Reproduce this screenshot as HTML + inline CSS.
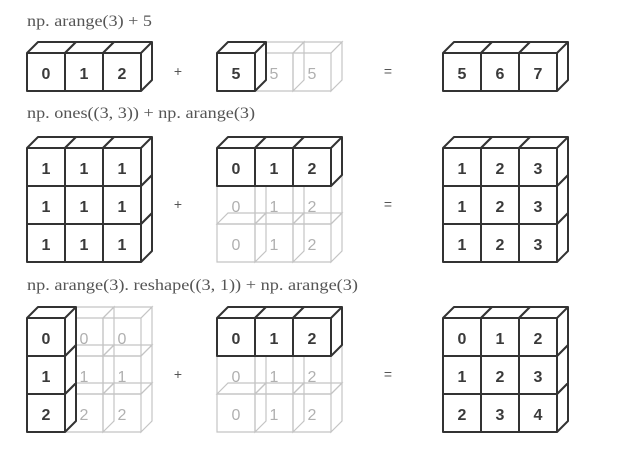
<!DOCTYPE html>
<html><head><meta charset="utf-8"><style>html,body{margin:0;padding:0;background:#fff}svg{display:block}</style></head>
<body>
<svg width="634" height="460" viewBox="0 0 634 460" xmlns="http://www.w3.org/2000/svg">
<defs>
<path id="cp" d="M0 0h38v38h-38z M0 0l11-11h38l-11 11z M38 38l11-11v-38l-11 11z"/>
<g id="g"><use href="#cp" fill="none" stroke="#c4c4c4" stroke-width="1.2"/></g>
<g id="b"><use href="#cp" fill="#fff" stroke="#333" stroke-width="2" stroke-linejoin="round"/></g>
</defs>
<g font-family="Liberation Serif, serif" font-size="16" fill="#555">
<text x="27" y="26" textLength="125" lengthAdjust="spacingAndGlyphs">np. arange(3) + 5</text>
<text x="27" y="118" textLength="228" lengthAdjust="spacingAndGlyphs">np. ones((3, 3)) + np. arange(3)</text>
<text x="27" y="290" textLength="331" lengthAdjust="spacingAndGlyphs">np. arange(3). reshape((3, 1)) + np. arange(3)</text>
</g>
<g font-family="Liberation Sans, sans-serif" font-size="14" fill="#555" text-anchor="middle">
<text x="178" y="76">+</text><text x="388" y="76">=</text>
<text x="178" y="209">+</text><text x="388" y="209">=</text>
<text x="178" y="379">+</text><text x="388" y="379">=</text>
</g>
<use href="#g" x="255" y="53"/><use href="#g" x="293" y="53"/>
<use href="#g" x="217" y="224"/><use href="#g" x="255" y="224"/><use href="#g" x="293" y="224"/>
<use href="#g" x="217" y="186"/><use href="#g" x="255" y="186"/><use href="#g" x="293" y="186"/>
<use href="#g" x="65" y="394"/><use href="#g" x="103" y="394"/>
<use href="#g" x="65" y="356"/><use href="#g" x="103" y="356"/>
<use href="#g" x="65" y="318"/><use href="#g" x="103" y="318"/>
<use href="#g" x="217" y="394"/><use href="#g" x="255" y="394"/><use href="#g" x="293" y="394"/>
<use href="#g" x="217" y="356"/><use href="#g" x="255" y="356"/><use href="#g" x="293" y="356"/>
<use href="#b" x="27" y="53"/><use href="#b" x="65" y="53"/><use href="#b" x="103" y="53"/>
<use href="#b" x="217" y="53"/>
<use href="#b" x="443" y="53"/><use href="#b" x="481" y="53"/><use href="#b" x="519" y="53"/>
<use href="#b" x="27" y="224"/><use href="#b" x="65" y="224"/><use href="#b" x="103" y="224"/>
<use href="#b" x="27" y="186"/><use href="#b" x="65" y="186"/><use href="#b" x="103" y="186"/>
<use href="#b" x="27" y="148"/><use href="#b" x="65" y="148"/><use href="#b" x="103" y="148"/>
<use href="#b" x="217" y="148"/><use href="#b" x="255" y="148"/><use href="#b" x="293" y="148"/>
<use href="#b" x="443" y="224"/><use href="#b" x="481" y="224"/><use href="#b" x="519" y="224"/>
<use href="#b" x="443" y="186"/><use href="#b" x="481" y="186"/><use href="#b" x="519" y="186"/>
<use href="#b" x="443" y="148"/><use href="#b" x="481" y="148"/><use href="#b" x="519" y="148"/>
<use href="#b" x="27" y="394"/><use href="#b" x="27" y="356"/><use href="#b" x="27" y="318"/>
<use href="#b" x="217" y="318"/><use href="#b" x="255" y="318"/><use href="#b" x="293" y="318"/>
<use href="#b" x="443" y="394"/><use href="#b" x="481" y="394"/><use href="#b" x="519" y="394"/>
<use href="#b" x="443" y="356"/><use href="#b" x="481" y="356"/><use href="#b" x="519" y="356"/>
<use href="#b" x="443" y="318"/><use href="#b" x="481" y="318"/><use href="#b" x="519" y="318"/>
<g font-family="Liberation Sans, sans-serif" font-size="16" fill="#b0b0b0" text-anchor="middle">
<text x="274" y="79">5</text><text x="312" y="79">5</text>
<text x="236" y="212">0</text><text x="274" y="212">1</text><text x="312" y="212">2</text>
<text x="236" y="250">0</text><text x="274" y="250">1</text><text x="312" y="250">2</text>
<text x="84" y="344">0</text><text x="122" y="344">0</text>
<text x="84" y="382">1</text><text x="122" y="382">1</text>
<text x="84" y="420">2</text><text x="122" y="420">2</text>
<text x="236" y="382">0</text><text x="274" y="382">1</text><text x="312" y="382">2</text>
<text x="236" y="420">0</text><text x="274" y="420">1</text><text x="312" y="420">2</text>
</g>
<g font-family="Liberation Sans, sans-serif" font-size="16" font-weight="bold" fill="#3a3a3a" text-anchor="middle">
<text x="46" y="79">0</text><text x="84" y="79">1</text><text x="122" y="79">2</text>
<text x="236" y="79">5</text>
<text x="462" y="79">5</text><text x="500" y="79">6</text><text x="538" y="79">7</text>
<text x="46" y="174">1</text><text x="84" y="174">1</text><text x="122" y="174">1</text>
<text x="46" y="212">1</text><text x="84" y="212">1</text><text x="122" y="212">1</text>
<text x="46" y="250">1</text><text x="84" y="250">1</text><text x="122" y="250">1</text>
<text x="236" y="174">0</text><text x="274" y="174">1</text><text x="312" y="174">2</text>
<text x="462" y="174">1</text><text x="500" y="174">2</text><text x="538" y="174">3</text>
<text x="462" y="212">1</text><text x="500" y="212">2</text><text x="538" y="212">3</text>
<text x="462" y="250">1</text><text x="500" y="250">2</text><text x="538" y="250">3</text>
<text x="46" y="344">0</text><text x="46" y="382">1</text><text x="46" y="420">2</text>
<text x="236" y="344">0</text><text x="274" y="344">1</text><text x="312" y="344">2</text>
<text x="462" y="344">0</text><text x="500" y="344">1</text><text x="538" y="344">2</text>
<text x="462" y="382">1</text><text x="500" y="382">2</text><text x="538" y="382">3</text>
<text x="462" y="420">2</text><text x="500" y="420">3</text><text x="538" y="420">4</text>
</g>
</svg>
</body></html>
